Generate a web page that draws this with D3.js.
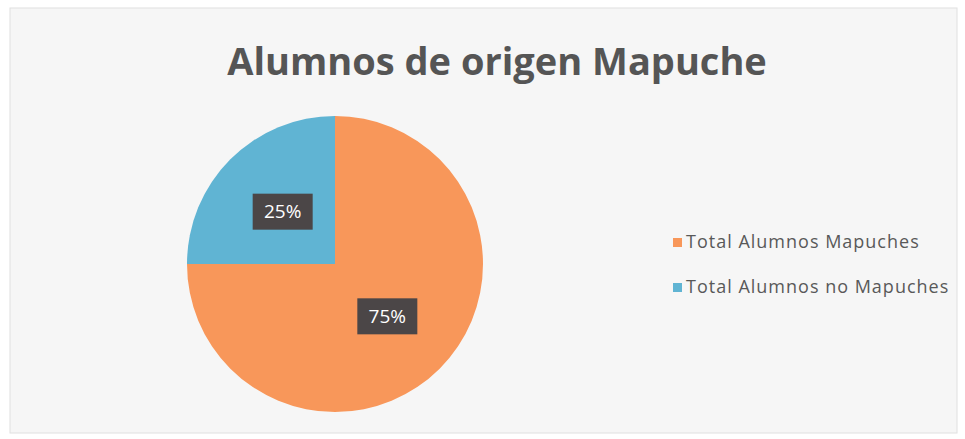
<!DOCTYPE html>
<html>
<head>
<meta charset="utf-8">
<script src="https://cdn.jsdelivr.net/npm/d3@7"></script>
<style>
  body { margin: 0; background: #ffffff; }
  text { font-family: "Open Sans", Lato, sans-serif; }
</style>
</head>
<body>
<svg width="965" height="439"></svg>
<script>
const categories = ["Total Alumnos Mapuches", "Total Alumnos no Mapuches"]
const values = [75, 25]
const colors = ["#f8975a", "#60b4d3"]
const title = "Alumnos de origen Mapuche"

const svg = d3.select("svg")
const width = +svg.attr("width")
const height = +svg.attr("height")

// chart area background
svg.append("rect")
  .attr("x", 10).attr("y", 8)
  .attr("width", width - 18).attr("height", height - 14)
  .attr("fill", "#f6f6f6")
  .attr("stroke", "#e0e0e0")

svg.append("text")
  .text(title)
  .attr("x", 497)
  .attr("y", 75)
  .attr("text-anchor", "middle")
  .attr("fill", "#555555")
  .attr("style", "font-size: 38px; font-weight: 700")

// pie
const cx = 335
const cy = 264
const radius = 148

const pie = d3.pie().sort(null).value(d => d)
const arc = d3.arc().innerRadius(0).outerRadius(radius)
const labelArc = d3.arc().innerRadius(radius / 2).outerRadius(radius / 2)

const g = svg.append("g")
  .attr("transform", "translate(" + cx + "," + cy + ")")

const arcs = pie(values)

g.selectAll("path.slice")
  .data(arcs)
  .join("path")
  .attr("class", "slice")
  .attr("d", arc)
  .attr("fill", (d, i) => colors[i])

const total = d3.sum(values)
const labels = g.selectAll("g.label")
  .data(arcs)
  .join("g")
  .attr("class", "label")
  .attr("transform", d => "translate(" + labelArc.centroid(d) + ")")

labels.append("rect")
  .attr("x", -30).attr("y", -18)
  .attr("width", 60).attr("height", 36)
  .attr("fill", "#4b4647")

labels.append("text")
  .text(d => Math.round(d.data / total * 100) + "%")
  .attr("text-anchor", "middle")
  .attr("dy", "0.35em")
  .attr("fill", "#ffffff")
  .attr("style", "font-size: 19px")

// legend
const legend = svg.append("g")
  .attr("transform", "translate(673,238)")

const items = legend.selectAll("g")
  .data(categories)
  .join("g")
  .attr("transform", (d, i) => "translate(0," + i * 45 + ")")

items.append("rect")
  .attr("width", 9).attr("height", 9)
  .attr("fill", (d, i) => colors[i])

items.append("text")
  .text(d => d)
  .attr("x", 13)
  .attr("y", 10)
  .attr("fill", "#595959")
  .attr("style", "font-size: 18px; letter-spacing: 1px")
</script>
</body>
</html>
